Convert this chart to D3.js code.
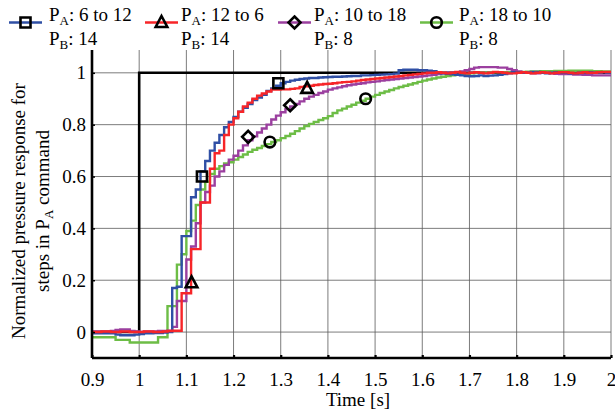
<!DOCTYPE html>
<html>
<head>
<meta charset="utf-8">
<script src="https://cdn.jsdelivr.net/npm/d3@7"></script>
</head>
<body style="margin:0;padding:0;background:#fff">
<svg id="chart" width="615" height="415" style="display:block"></svg>
<script>
// ---------------- DATA ----------------
const times = [0.90,0.91,0.92,0.93,0.94,0.95,0.96,0.97,0.98,0.99,
  1.00,1.01,1.02,1.03,1.04,1.05,1.06,1.07,1.08,1.09,
  1.10,1.11,1.12,1.13,1.14,1.15,1.16,1.17,1.18,1.19,
  1.20,1.21,1.22,1.23,1.24,1.25,1.26,1.27,1.28,1.29,
  1.30,1.31,1.32,1.33,1.34,1.35,1.36,1.37,1.38,1.39,
  1.40,1.41,1.42,1.43,1.44,1.45,1.46,1.47,1.48,1.49,
  1.50,1.51,1.52,1.53,1.54,1.55,1.56,1.57,1.58,1.59,
  1.60,1.61,1.62,1.63,1.64,1.65,1.66,1.67,1.68,1.69,
  1.70,1.71,1.72,1.73,1.74,1.75,1.76,1.77,1.78,1.79,
  1.80,1.81,1.82,1.83,1.84,1.85,1.86,1.87,1.88,1.89,
  1.90,1.91,1.92,1.93,1.94,1.95,1.96,1.97,1.98,1.99,2.00];

const blue6to12 = [-0.005,-0.005,-0.005,-0.005,-0.005,-0.01,-0.012,-0.012,-0.012,-0.01,
  -0.008,-0.005,-0.005,-0.004,-0.004,-0.002,0.0,0.17,0.175,0.37,
  0.37,0.52,0.55,0.62,0.66,0.70,0.73,0.76,0.79,0.81,
  0.83,0.85,0.865,0.88,0.895,0.905,0.915,0.93,0.94,0.95,
  0.96,0.965,0.97,0.973,0.976,0.978,0.98,0.98,0.982,0.983,
  0.984,0.985,0.985,0.986,0.987,0.988,0.988,0.99,0.99,0.991,
  0.992,0.993,0.994,0.995,0.997,1.01,1.012,1.012,1.012,1.01,
  1.01,1.008,1.006,1.0,0.998,0.996,0.994,0.992,0.99,0.988,
  0.987,0.988,0.99,0.988,0.989,0.99,0.992,0.995,0.998,1.002,
  1.002,1.0,1.0,1.003,1.003,1.0,0.998,1.0,1.002,1.0,
  1.0,0.998,0.998,1.0,1.0,1.002,1.0,1.0,1.002,1.0,1.0];

const red12to6 = [0.0,0.0,0.002,0.002,0.0,0.0,0.002,0.002,0.0,0.0,
  0.0,0.002,0.002,0.0,0.0,0.002,0.004,0.005,0.005,0.15,
  0.15,0.32,0.32,0.50,0.50,0.63,0.69,0.70,0.76,0.80,
  0.825,0.85,0.87,0.885,0.90,0.912,0.92,0.928,0.935,0.935,
  0.936,0.936,0.938,0.94,0.945,0.948,0.95,0.953,0.955,0.957,
  0.958,0.96,0.962,0.964,0.965,0.967,0.97,0.972,0.974,0.976,
  0.978,0.98,0.982,0.984,0.986,0.988,0.99,0.992,0.994,0.996,
  0.998,1.0,1.0,1.002,1.0,0.998,1.0,1.003,1.0,0.998,
  1.0,1.002,1.0,0.998,1.0,1.003,1.002,1.0,0.998,0.998,
  1.0,1.002,1.0,0.998,1.0,1.002,1.0,0.998,1.0,1.002,
  1.002,1.0,0.998,1.0,1.002,1.0,1.0,1.002,1.003,1.003,1.003];

const purple10to18 = [0.002,0.002,0.002,0.002,0.004,0.008,0.01,0.01,0.004,0.002,
  0.0,0.002,0.002,0.002,0.004,0.004,0.005,0.02,0.12,0.12,
  0.28,0.33,0.42,0.50,0.54,0.565,0.60,0.62,0.645,0.665,
  0.68,0.70,0.72,0.74,0.755,0.77,0.785,0.80,0.82,0.835,
  0.848,0.86,0.87,0.88,0.89,0.90,0.908,0.915,0.922,0.928,
  0.935,0.94,0.944,0.948,0.952,0.955,0.958,0.96,0.963,0.965,
  0.967,0.97,0.972,0.974,0.976,0.978,0.98,0.982,0.984,0.986,
  0.988,0.99,0.992,0.995,0.998,1.0,1.0,1.002,1.005,1.01,
  1.015,1.02,1.022,1.022,1.022,1.022,1.02,1.02,1.015,1.01,
  1.005,1.0,1.0,0.998,0.998,1.0,1.0,0.998,0.996,0.995,
  0.995,0.995,0.993,0.993,0.992,0.992,0.99,0.99,0.99,0.99,0.99];

const green18to10 = [-0.02,-0.02,-0.02,-0.02,-0.02,-0.03,-0.03,-0.03,-0.04,-0.04,
  -0.04,-0.04,-0.04,-0.04,-0.02,-0.02,0.10,0.10,0.26,0.30,
  0.39,0.43,0.49,0.55,0.58,0.61,0.63,0.64,0.65,0.655,
  0.665,0.675,0.685,0.695,0.703,0.71,0.718,0.725,0.733,0.74,
  0.748,0.756,0.765,0.775,0.785,0.795,0.803,0.81,0.818,0.825,
  0.833,0.845,0.855,0.862,0.87,0.877,0.885,0.892,0.90,0.908,
  0.915,0.922,0.928,0.934,0.94,0.945,0.95,0.955,0.96,0.965,
  0.97,0.974,0.978,0.982,0.985,0.988,0.99,0.992,0.994,0.996,
  0.998,1.0,1.0,1.0,1.0,1.002,1.002,1.002,1.002,1.003,
  1.003,1.003,1.004,1.005,1.005,1.006,1.006,1.006,1.007,1.007,
  1.007,1.008,1.008,1.008,1.008,1.008,1.006,1.006,1.005,1.005,1.005];

const commandTimes  = [0.9, 1.0, 2.0];
const commandValues = [0, 1, 1];

const seriesNames = ["6 to 12", "12 to 6", "10 to 18", "18 to 10"];
const seriesPB    = ["14", "14", "8", "8"];
const seriesColors = ["#2f4fa5", "#f72528", "#9b3f9f", "#6dbd46"];
const seriesShapes = ["square", "triangle", "diamond", "circle"];

// marker positions [time, value]
const squareMarks   = [[1.133, 0.60], [1.295, 0.96]];
const triangleMarks = [[1.111, 0.19], [1.356, 0.94]];
const diamondMarks  = [[1.231, 0.753], [1.32, 0.875]];
const circleMarks   = [[1.277, 0.733], [1.48, 0.90]];

const xTicks = [0.9, 1.0, 1.1, 1.2, 1.3, 1.4, 1.5, 1.6, 1.7, 1.8, 1.9, 2.0];
const xTickLabels = ["0.9","1","1.1","1.2","1.3","1.4","1.5","1.6","1.7","1.8","1.9","2"];
const yTicks = [0, 0.2, 0.4, 0.6, 0.8, 1];
const yTickLabels = ["0","0.2","0.4","0.6","0.8","1"];

// ---------------- CHART ----------------
const SERIF = "Liberation Serif";
const svg = d3.select("#chart");
const L = 92, R = 611, T = 50, B = 358;
const x = d3.scaleLinear().domain([0.9, 2.0]).range([L, R]);
const y = d3.scaleLinear().domain([-0.1, 1.088]).range([B, T]);
const FONT = "19px";
const SUB = "13px";

function styled(sel) { return sel.style("font-family", SERIF).style("font-size", FONT).attr("fill", "#000"); }

// grid
const grid = svg.append("g").attr("stroke", "#5a5a5a").attr("stroke-width", 0.8);
grid.selectAll("line.v").data(xTicks.slice(1)).enter().append("line")
  .attr("x1", d => x(d)).attr("x2", d => x(d)).attr("y1", T).attr("y2", B);
grid.selectAll("line.h").data(yTicks).enter().append("line")
  .attr("x1", L).attr("x2", R).attr("y1", d => y(d)).attr("y2", d => y(d));

// command
const line = d3.line().x(d => x(d[0])).y(d => y(d[1])).curve(d3.curveStepAfter);
svg.append("path")
  .attr("d", line(commandTimes.map((t, i) => [t, commandValues[i]])))
  .attr("fill", "none").attr("stroke", "#000").attr("stroke-width", 2.6);

// series (drawn back to front)
const seriesValues = [blue6to12, red12to6, purple10to18, green18to10];
const drawOrder = [3, 2, 0, 1];
drawOrder.forEach(k => {
  svg.append("path")
    .attr("d", line(times.map((t, i) => [t, seriesValues[k][i]])))
    .attr("fill", "none").attr("stroke", seriesColors[k]).attr("stroke-width", 2.4);
});

// markers
function markerPath(shape) {
  if (shape === "square") return "M-5,-5H5V5H-5Z";
  if (shape === "triangle") return "M0,-6.5L5.8,4.5H-5.8Z";
  if (shape === "diamond") return "M0,-6L6,0L0,6L-6,0Z";
  return null;
}
function drawMarker(g, shape, cx, cy) {
  if (shape === "circle") {
    g.append("circle").attr("cx", cx).attr("cy", cy).attr("r", 5.3)
      .attr("fill", "none").attr("stroke", "#000").attr("stroke-width", 2.6);
  } else {
    g.append("path").attr("d", markerPath(shape))
      .attr("transform", `translate(${cx},${cy})`)
      .attr("fill", "none").attr("stroke", "#000").attr("stroke-width", 2.6);
  }
}
const markerSets = [squareMarks, triangleMarks, diamondMarks, circleMarks];
const mg = svg.append("g");
markerSets.forEach((set, k) => {
  set.forEach(p => drawMarker(mg, seriesShapes[k], x(p[0]), y(p[1])));
});

// axes
const xAxis = d3.axisBottom(x).tickValues(xTicks)
  .tickFormat((d, i) => xTickLabels[i]).tickSizeInner(-3).tickSizeOuter(0).tickPadding(15);
const gx = svg.append("g").attr("transform", `translate(0,${B})`).call(xAxis);
gx.attr("font-family", SERIF).attr("font-size", 19);
gx.select(".domain").attr("stroke", "#000").attr("stroke-width", 2.6).attr("d", `M${L},0H${R}`);
gx.selectAll(".tick line").attr("stroke", "#000").attr("stroke-width", 2.2);
styled(gx.selectAll(".tick text"));

const yAxis = d3.axisLeft(y).tickValues(yTicks)
  .tickFormat((d, i) => yTickLabels[i]).tickSizeInner(-3).tickSizeOuter(0).tickPadding(6);
const gy = svg.append("g").attr("transform", `translate(${L},0)`).call(yAxis);
gy.attr("font-family", SERIF).attr("font-size", 19);
gy.select(".domain").attr("stroke", "#000").attr("stroke-width", 2.6).attr("d", `M0,${T}V${B}`);
gy.selectAll(".tick line").attr("stroke", "#000").attr("stroke-width", 1.5);
styled(gy.selectAll(".tick text"));

// axis titles
styled(svg.append("text")).attr("x", 358).attr("y", 406)
  .attr("text-anchor", "middle").text("Time [s]");

const yt = svg.append("g").attr("transform", "translate(0,211)");
styled(yt.append("text")).attr("transform", "translate(25,0) rotate(-90)")
  .attr("text-anchor", "middle").text("Normalized pressure response for");
const yt2 = styled(yt.append("text")).attr("transform", "translate(49,0) rotate(-90)")
  .attr("text-anchor", "middle");
yt2.append("tspan").text("steps in P");
yt2.append("tspan").style("font-size", SUB).attr("dy", 4).text("A");
yt2.append("tspan").attr("dy", -4).text(" command");

// legend
const legLineX = [9, 145, 278, 420];
const legTextX = [49, 181, 314, 459];
const lg = svg.append("g");
seriesNames.forEach((name, k) => {
  const x0 = legLineX[k];
  lg.append("line").attr("x1", x0).attr("x2", x0 + 33).attr("y1", 22.5).attr("y2", 22.5)
    .attr("stroke", seriesColors[k]).attr("stroke-width", 2.4);
  drawMarker(lg, seriesShapes[k], x0 + 16.5, 22.5);
  const t1 = styled(lg.append("text")).attr("x", legTextX[k]).attr("y", 21);
  t1.append("tspan").text("P");
  t1.append("tspan").style("font-size", SUB).attr("dy", 4).text("A");
  t1.append("tspan").attr("dy", -4).text(": " + name);
  const t2 = styled(lg.append("text")).attr("x", legTextX[k]).attr("y", 45);
  t2.append("tspan").text("P");
  t2.append("tspan").style("font-size", SUB).attr("dy", 4).text("B");
  t2.append("tspan").attr("dy", -4).text(": " + seriesPB[k]);
});
</script>
</body>
</html>
